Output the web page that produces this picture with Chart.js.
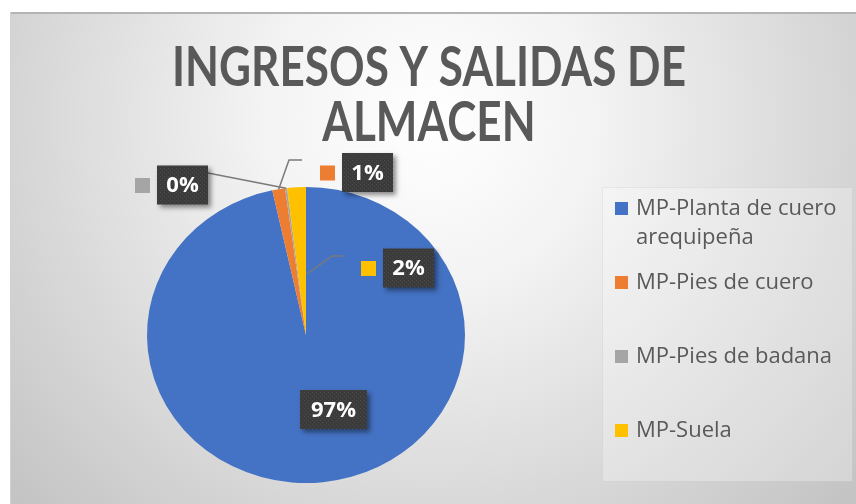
<!DOCTYPE html>
<html>
<head>
<meta charset="utf-8">
<script src="https://cdn.jsdelivr.net/npm/chart.js@4.4.1/dist/chart.umd.min.js"></script>
<style>
  html, body { margin: 0; padding: 0; background: #fff; }
  #wrap { width: 856px; height: 504px; position: relative; }
</style>
</head>
<body>
<div id="wrap"><canvas id="myChart" width="856" height="504"></canvas></div>
<script>
var titleLines = ['INGRESOS Y SALIDAS DE', 'ALMACEN'];
var categories = ['MP-Planta de cuero arequipeña', 'MP-Pies de cuero', 'MP-Pies de badana', 'MP-Suela'];
var values = [96.6, 1.3, 0.2, 1.9];
var sliceColors = ['#4472C4', '#ED7D31', '#A5A5A5', '#FFC000'];

var textGrey = '#595959';
var squash = 148 / 159; // the pie in the picture is a bit flatter than round

/* dotted dark fill used by the data label boxes */
function makeDots(ctx) {
  var c = document.createElement('canvas');
  c.width = 4; c.height = 4;
  var g = c.getContext('2d');
  g.fillStyle = '#3b3b3b';
  g.fillRect(0, 0, 4, 4);
  g.fillStyle = '#4a4a4a';
  g.fillRect(0, 0, 1, 1);
  g.fillRect(2, 2, 1, 1);
  return ctx.createPattern(c, 'repeat');
}

/* where each label sits, offsets from pie centre in px */
var labelSpots = [
  { box: [27.5, 74.5], w: 67, key: false, leader: [] },
  { box: [61.5, -162.5], w: 51, key: true, leader: ['edge', [-17, -175], [-4, -175]] },
  { box: [-123.5, -150], w: 51, key: true, leader: ['edge', [-98, -162]] },
  { box: [102.5, -67], w: 51, key: true, leader: [[1, -61], [26, -79], [37, -79]] }
];

var backgroundPlugin = {
  id: 'background',
  beforeDraw: function(chart) {
    var ctx = chart.ctx;
    ctx.save();
    ctx.fillStyle = '#ffffff';
    ctx.fillRect(0, 0, chart.width, chart.height);
    var grad = ctx.createRadialGradient(430, 120, 0, 430, 120, 560);
    grad.addColorStop(0, '#ffffff');
    grad.addColorStop(0.3, '#f3f3f3');
    grad.addColorStop(1, '#c4c4c4');
    ctx.fillStyle = grad;
    ctx.fillRect(10, 12, chart.width - 10, chart.height - 12);
    ctx.fillStyle = '#b4b4b4';
    ctx.fillRect(10, 12, chart.width - 10, 2);
    ctx.fillStyle = '#d2d2d2';
    ctx.fillRect(10, 12, 1, chart.height - 12);

    // title
    ctx.fillStyle = textGrey;
    ctx.textAlign = 'center';
    ctx.textBaseline = 'alphabetic';
    ctx.font = 'bold 56px Lato, "Open Sans", sans-serif';
    var fit = Math.min(1, 514 / ctx.measureText(titleLines[0]).width);
    titleLines.forEach(function(line, i) {
      var w = ctx.measureText(line).width * fit;
      ctx.fillText(line, 429, 86 + i * 55, w);
    });

    // legend box
    ctx.fillStyle = 'rgba(255,255,255,0.28)';
    ctx.fillRect(602, 187, 251, 295);
    ctx.strokeStyle = 'rgba(0,0,0,0.06)';
    ctx.lineWidth = 1;
    ctx.strokeRect(602.5, 187.5, 250, 294);

    ctx.font = '22px "Open Sans", sans-serif';
    ctx.textAlign = 'left';
    ctx.textBaseline = 'middle';
    categories.forEach(function(name, i) {
      var y = 209 + i * 74;
      ctx.fillStyle = sliceColors[i];
      ctx.fillRect(615, y - 7, 13, 13);
      ctx.fillStyle = textGrey;
      var words = name.split(' ');
      var line = '';
      var lines = [];
      words.forEach(function(wd) {
        var test = line ? line + ' ' + wd : wd;
        if (ctx.measureText(test).width > 210 && line) {
          lines.push(line);
          line = wd;
        } else {
          line = test;
        }
      });
      lines.push(line);
      lines.forEach(function(l, j) {
        ctx.fillText(l, 636, y + j * 29);
      });
    });
    ctx.restore();
  }
};

var labelPlugin = {
  id: 'sliceLabels',
  beforeDatasetsDraw: function(chart) {
    var arc = chart.getDatasetMeta(0).data[0];
    var ctx = chart.ctx;
    ctx.save();
    ctx.translate(arc.x, arc.y);
    ctx.scale(1, squash);
    ctx.translate(-arc.x, -arc.y);
  },
  afterDatasetsDraw: function(chart) {
    var ctx = chart.ctx;
    ctx.restore();
    var meta = chart.getDatasetMeta(0);
    var total = values.reduce(function(a, b) { return a + b; }, 0);
    var dots = makeDots(ctx);

    meta.data.forEach(function(el, i) {
      var spot = labelSpots[i];
      var cx = el.x, cy = el.y;
      var mid = (el.startAngle + el.endAngle) / 2;
      var edge = [cx + el.outerRadius * Math.cos(mid), cy + el.outerRadius * squash * Math.sin(mid)];
      ctx.save();

      // leader line
      if (spot.leader.length) {
        ctx.strokeStyle = '#7a7a7a';
        ctx.lineWidth = 1.5;
        ctx.beginPath();
        spot.leader.forEach(function(p, j) {
          var pt = p === 'edge' ? edge : [cx + p[0], cy + p[1]];
          if (j === 0) ctx.moveTo(pt[0], pt[1]);
          else ctx.lineTo(pt[0], pt[1]);
        });
        ctx.stroke();
      }

      var bx = cx + spot.box[0], by = cy + spot.box[1];
      var h = 39;

      // box with shadow
      ctx.save();
      ctx.shadowColor = 'rgba(0,0,0,0.45)';
      ctx.shadowBlur = 5;
      ctx.shadowOffsetX = 3;
      ctx.shadowOffsetY = 3;
      ctx.fillStyle = dots;
      ctx.fillRect(bx - spot.w / 2, by - h / 2, spot.w, h);
      ctx.restore();

      if (spot.key) {
        ctx.fillStyle = sliceColors[i];
        ctx.fillRect(bx - spot.w / 2 - 22, by - 7, 15, 15);
      }

      ctx.fillStyle = '#ffffff';
      ctx.font = 'bold 22px "Open Sans", sans-serif';
      ctx.textAlign = 'center';
      ctx.textBaseline = 'middle';
      ctx.fillText(Math.round(values[i] / total * 100) + '%', bx, by + 1);
      ctx.restore();
    });
  }
};

var config = {
  type: 'pie',
  data: {
    labels: categories,
    datasets: [{
      data: values,
      backgroundColor: sliceColors,
      borderWidth: 0
    }]
  },
  options: {
    responsive: false,
    animation: false,
    layout: {
      padding: { left: 147, right: 391, top: 176, bottom: 10 }
    },
    plugins: {
      legend: { display: false },
      title: { display: false },
      tooltip: { enabled: false }
    }
  },
  plugins: [backgroundPlugin, labelPlugin]
};

var ctx = document.getElementById('myChart').getContext('2d');
window.pieChart = new Chart(ctx, config);
</script>
</body>
</html>
